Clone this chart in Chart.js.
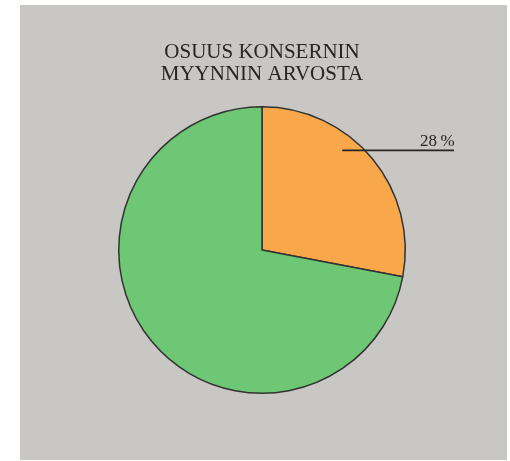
<!DOCTYPE html>
<html>
<head>
<meta charset="utf-8">
<script src="https://cdn.jsdelivr.net/npm/chart.js@4/dist/chart.umd.min.js"></script>
<style>
  html, body { margin: 0; padding: 0; background: #ffffff; }
  #panel { position: absolute; left: 20px; top: 5px; width: 487px; height: 455px; background: #c9c7c3; }
</style>
</head>
<body>
<div id="panel"><canvas id="pie"></canvas></div>
<script>
const categories = ['Osuus', 'Muu konserni'];
const shares = [28, 72];
const sliceColors = ['#f8a84a', '#6dc774'];
const titleLines = ['OSUUS KONSERNIN', 'MYYNNIN ARVOSTA'];

// title and the leader-line label
const annotate = {
    id: 'annotate',
    afterDraw(chart) {
        const ctx = chart.ctx;
        const arc = chart.getDatasetMeta(0).data[0];
        const cx = arc.x, cy = arc.y, r = arc.outerRadius;
        ctx.save();
        ctx.fillStyle = '#262626';
        ctx.textAlign = 'center';
        ctx.textBaseline = 'alphabetic';
        ctx.font = '21px "Liberation Serif", serif';
        ctx.fillText(titleLines[0], cx, 53);
        ctx.fillText(titleLines[1], cx, 75);

        const ly = cy - r * 0.695;
        ctx.strokeStyle = '#262626';
        ctx.lineWidth = 1.8;
        ctx.beginPath();
        ctx.moveTo(cx + r * 0.56, ly);
        ctx.lineTo(cx + r * 1.34, ly);
        ctx.stroke();
        ctx.textAlign = 'right';
        ctx.font = '17px "Liberation Serif", serif';
        ctx.fillText(shares[0] + '\u2009%', cx + r * 1.345, ly - 4);
        ctx.restore();
    }
};

new Chart(document.getElementById('pie'), {
    type: 'pie',
    data: {
        labels: categories,
        datasets: [{
            data: shares,
            backgroundColor: sliceColors,
            borderColor: '#333333',
            borderWidth: 1.5
        }]
    },
    options: {
        responsive: true,
        maintainAspectRatio: false,
        animation: false,
        layout: { padding: { left: 98, right: 101, top: 101, bottom: 66 } },
        plugins: {
            legend: { display: false },
            tooltip: { enabled: false }
        }
    },
    plugins: [annotate]
});
</script>
</body>
</html>
